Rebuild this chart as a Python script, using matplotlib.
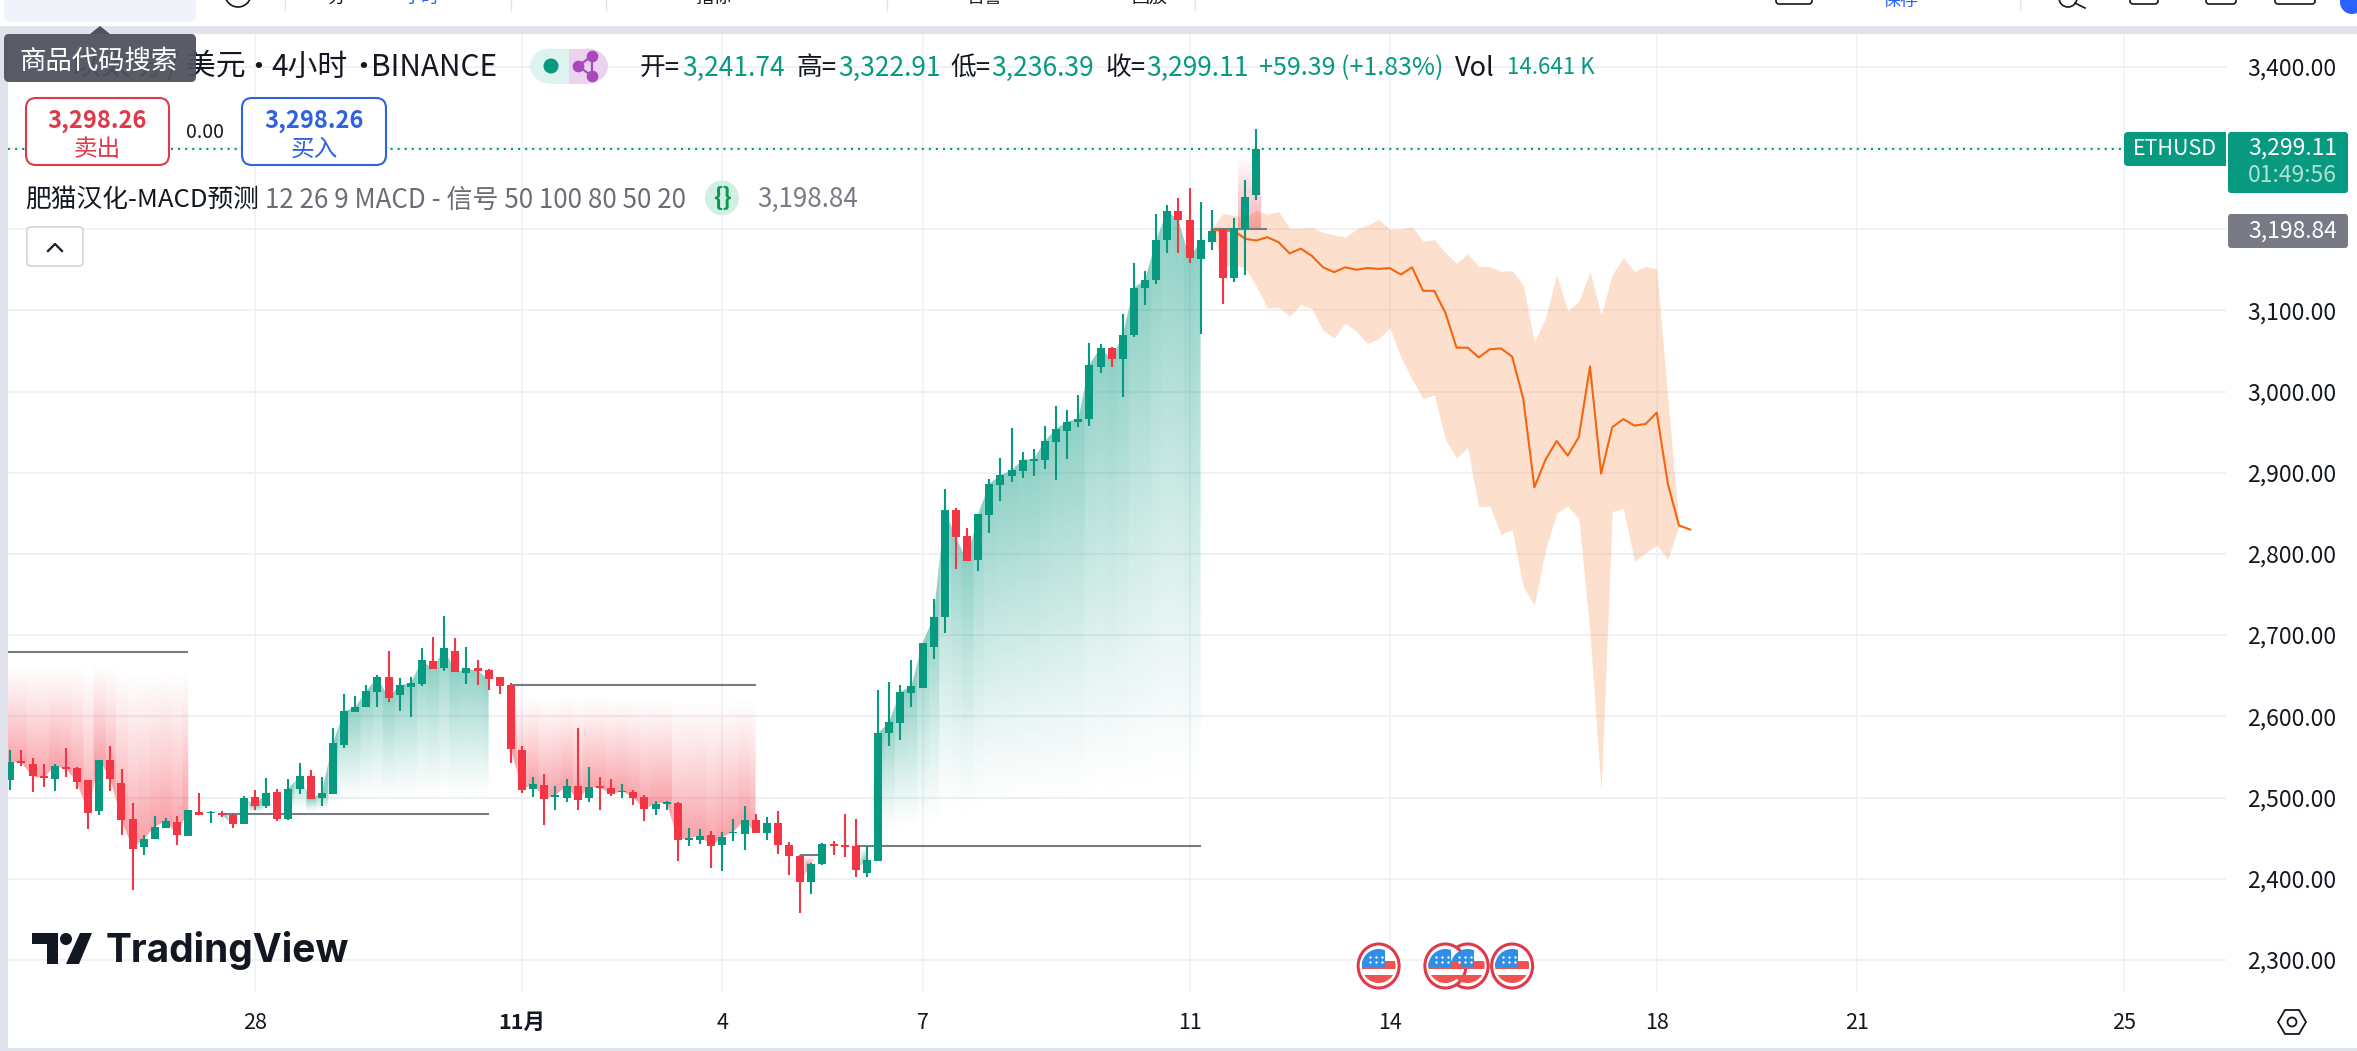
import numpy as np
import matplotlib
matplotlib.use("Agg")
import matplotlib.pyplot as plt
from matplotlib.patches import Rectangle, FancyBboxPatch, Circle, Ellipse, Polygon
from matplotlib.transforms import ScaledTranslation

plt.rcParams['font.family'] = ['Noto Sans CJK SC', 'DejaVu Sans']

W, H = 2357, 1051

opens = [2522,2545,2541,2527,2523,2538,2536,2521,2483,2546,2518,2474,2439,2449,2463,2470,2453,2482,2481,2481,
         2479,2467,2501,2490,2507,2473,2510,2526,2499,2504,2565,2605,2611,2630,2649,2626,2636,2640,2668,2659,
         2681,2653,2660,2657,2648,2639,2559,2511,2516,2501,2500,2514,2500,2514,2512,2507,2507,2501,2486,2492,
         2493,2448,2448,2454,2442,2456,2455,2472,2456,2469,2442,2428,2396,2418,2443,2441,2440,2407,2422,2579,
         2592,2629,2635,2685,2722,2854,2822,2792,2848,2885,2896,2902,2914,2916,2938,2951,2963,2966,3030,3054,
         3040,3069,3127,3137,3186,3222,3211,3163,3184,3200,3140,3200,3241.74]
highs = [2558,2559,2549,2541,2541,2561,2537,2521,2546,2564,2535,2493,2454,2477,2475,2477,2485,2505,2483,2483,
         2481,2502,2509,2524,2510,2523,2542,2534,2525,2586,2628,2625,2638,2651,2680,2647,2649,2684,2698,2723,
         2696,2685,2669,2658,2648,2641,2563,2525,2529,2514,2523,2586,2537,2525,2523,2517,2509,2503,2496,2496,
         2495,2462,2461,2459,2458,2474,2490,2480,2476,2483,2445,2429,2419,2444,2447,2480,2474,2440,2633,2642,
         2639,2669,2690,2745,2880,2856,2832,2849,2892,2918,2955,2926,2929,2958,2982,2977,2996,3060,3059,3055,
         3095,3158,3149,3218,3230,3238,3251,3233,3223,3200,3214,3261,3322.91]
lows = [2509,2539,2507,2513,2508,2525,2510,2461,2478,2508,2454,2386,2429,2449,2462,2441,2453,2479,2468,2476,
        2463,2467,2484,2487,2471,2472,2504,2498,2489,2504,2561,2605,2611,2611,2618,2606,2599,2637,2658,2656,
        2654,2640,2638,2633,2627,2543,2506,2501,2466,2485,2495,2484,2495,2485,2502,2500,2491,2471,2479,2484,
        2422,2440,2443,2413,2409,2446,2435,2456,2448,2430,2404,2358,2381,2417,2429,2427,2402,2402,2422,2563,
        2571,2611,2635,2670,2702,2782,2791,2779,2826,2865,2888,2893,2896,2905,2891,2917,2956,2958,3023,3030,
        2993,3067,3106,3132,3170,3170,3158,3071,3174,3108,3135,3144,3236.39]
closes = [2544,2543,2526,2524,2539,2535,2519,2481,2546,2523,2472,2437,2449,2464,2471,2454,2484,2479,2482,2479,
          2467,2500,2490,2506,2473,2511,2526,2498,2506,2567,2606,2611,2631,2648,2623,2638,2641,2669,2658,2684,
          2654,2659,2656,2646,2637,2560,2509,2517,2498,2503,2514,2497,2513,2512,2504,2508,2500,2486,2492,2494,
          2448,2450,2453,2440,2451,2458,2472,2456,2469,2442,2428,2396,2418,2443,2440,2439,2411,2423,2579,2593,
          2630,2637,2690,2722,2854,2821,2791,2849,2886,2897,2903,2916,2917,2939,2954,2963,2966,3033,3054,3040,
          3070,3128,3137,3187,3222,3211,3164,3186,3198,3140,3201,3240,3299.11]

forecast = [3199,3198,3198,3188,3186,3190,3184,3170,3176,3167,3153,3147,3153,3150,3152,3151,3152,3144,3153,3124,
            3124,3097,3054,3054,3042,3052,3053,3043,2991,2882,2916,2939,2921,2944,3031,2899,2956,2966,2958,2960,
            2974,2886,2835,2830]
band_upper = [3200,3219,3217,3214,3223,3218,3222,3201,3201,3202,3196,3193,3190,3200,3205,3212,3200,3200,3203,3185,
              3187,3171,3158,3170,3154,3154,3148,3149,3131,3061,3091,3144,3099,3111,3148,3094,3144,3165,3148,3154,
              3151,2991,2835]
band_lower = [3200,3152,3157,3152,3130,3103,3104,3093,3107,3102,3075,3066,3084,3074,3059,3065,3078,3042,3015,2991,
              2996,2941,2918,2931,2858,2859,2824,2830,2759,2737,2805,2850,2859,2843,2703,2508,2852,2856,2791,2801,
              2811,2793,2835]

forecast_start = 108
day_bars = [22, 46, 64, 82, 106, 124, 148, 166, 190]
day_labels = ['28', '11月', '4', '7', '11', '14', '18', '21', '25']
price_ticks = [2300, 2400, 2500, 2600, 2700, 2800, 2900, 3000, 3100, 3200, 3300, 3400]
price_labels = ['2,300.00', '2,400.00', '2,500.00', '2,600.00', '2,700.00', '2,800.00', '2,900.00',
                '3,000.00', '3,100.00', '3,200.00', '3,300.00', '3,400.00']
# swing zones: first bar, last bar, level, colour
zones = [(-1, 16, 2679, 'red'), (19, 43, 2480, 'green'), (45, 67, 2639, 'red'),
         (71, 73, 2429, 'red'), (76, 107, 2440, 'green')]
event_bars = [123, 131, 129, 135]

GREEN, RED, GREY = '#089981', '#f23645', '#787b86'
STEP, X0 = 11.125, 10.25           # px per bar, px of bar 0
PXY = 0.812                        # px per price unit
AL, AR, AT, AB = 8, 2226, 34, 992  # chart pane in px


def bar_px(i):
    return X0 + STEP * i


fig = plt.figure(figsize=(W / 100, H / 100), dpi=100, facecolor='white')
ax = fig.add_axes([AL / W, 1 - AB / H, (AR - AL) / W, (AB - AT) / H], facecolor='white')
ov = fig.add_axes([0, 0, 1, 1], facecolor='none', zorder=5)
ov.set_xlim(0, W)
ov.set_ylim(H, 0)
ov.axis('off')

xlim = ((AL - X0) / STEP, (AR - X0) / STEP)
ylim = (3400 - (AB - 66.7) / PXY, 3400 + (66.7 - AT) / PXY)
ax.set_xlim(*xlim)
ax.set_ylim(*ylim)
ax.set_autoscale_on(False)

# grid + axes
for s in ax.spines.values():
    s.set_visible(False)
ax.set_yticks(price_ticks)
ax.set_yticklabels(price_labels, fontsize=16.5, color='#131722')
ax.yaxis.tick_right()
ax.set_xticks(day_bars)
ax.set_xticklabels(day_labels, fontsize=15.5, color='#131722')
ax.tick_params(axis='both', length=0)
ax.tick_params(axis='y', pad=15)
ax.tick_params(axis='x', pad=14.5)
ax.get_xticklabels()[1].set_fontweight('bold')
ax.yaxis.grid(True, color='#f0f1f5', lw=1.5, zorder=0)
ax.xaxis.grid(True, color='#f0f1f5', lw=1.1, zorder=0)
ax.set_axisbelow(True)


def zone_fill(first, last, level, color, amax=0.46):
    vals = np.array(closes)
    bars = np.arange(max(first, 0), last + 1)
    v = vals[bars]
    xs = np.concatenate([[first], bars]) if first < 0 else bars
    vv = np.concatenate([[v[0]], v]) if first < 0 else v
    lo, hi = min(level, vv.min()), max(level, vv.max())
    nx, ny = int((xs[-1] - xs[0]) * 12) + 1, 400
    gx = np.linspace(xs[0], xs[-1], nx)
    gy = np.linspace(hi, lo, ny)
    rgb = matplotlib.colors.to_rgb(RED if color == 'red' else GREEN)
    img = np.zeros((ny, nx, 4))
    img[..., 0], img[..., 1], img[..., 2] = rgb
    nearest = vals[np.clip(np.round(gx).astype(int), 0, len(vals) - 1)]
    for c in range(nx):
        d = nearest[c] - level
        if d == 0:
            continue
        t = np.clip((gy - level) / d, 0, 1)
        img[:, c, 3] = amax * np.clip((t - 0.1) / 0.9, 0, 1) ** 1.2
    im = ax.imshow(img, extent=(xs[0], xs[-1], lo, hi), aspect='auto', zorder=1.5, interpolation='bilinear')
    poly = Polygon(np.column_stack([np.concatenate([xs, [xs[-1], xs[0]]]),
                                    np.concatenate([vv, [level, level]])]),
                   closed=True, transform=ax.transData, facecolor='none', edgecolor='none')
    ax.add_patch(poly)
    im.set_clip_path(poly)
    ax.hlines(level, xs[0] if first < 0 else first, last, color=GREY, lw=1.5, zorder=2.6)


for z in zones:
    zone_fill(*z)
ax.set_xlim(*xlim)
ax.set_ylim(*ylim)

# forecast band and line
fx = np.arange(forecast_start, forecast_start + len(forecast))
ax.fill_between(fx[:len(band_upper)], band_lower, band_upper, color='#f57016', alpha=0.21, lw=0, zorder=2)
ax.plot(fx, forecast, color='#f5640f', lw=1.5, zorder=2.2)
# last small red zone near the live bar
grad = np.zeros((100, 1, 4))
grad[..., :3] = matplotlib.colors.to_rgb(RED)
grad[:, 0, 3] = np.linspace(0.0, 0.4, 100)
ax.imshow(grad, extent=(110.4, 112.4, 3200, 3290), aspect='auto', zorder=2.3)
ax.hlines(3200, 108, 113, color=GREY, lw=1.5, zorder=2.6)
ax.set_xlim(*xlim)
ax.set_ylim(*ylim)

# last price line
ax.axhline(closes[-1], color=GREEN, lw=1.5, ls=(0, (1, 2.4)), zorder=2.7)

# candles
o, h, l, c = map(np.array, (opens, highs, lows, closes))
idx = np.arange(len(o))
up = c >= o
cols = np.where(up, GREEN, RED)
ax.vlines(idx, l, h, colors=cols, lw=1.5, zorder=3)
ax.bar(idx, np.maximum(np.abs(c - o), 1.5), bottom=np.minimum(o, c), width=8 / STEP, color=cols, lw=0, zorder=3.1)

# ---- overlay furniture (pixel coordinates) ----
BAND = '#e0e3eb'
ov.add_patch(Rectangle((0, 26), W, 8, fc=BAND, ec='none'))
ov.add_patch(Rectangle((0, 26), 8, H - 26, fc=BAND, ec='none'))
ov.add_patch(Rectangle((0, 1048), W, 3, fc=BAND, ec='none'))


def rbox(x0, y0, x1, y1, r=6, **kw):
    p = FancyBboxPatch((x0 + r, y0 + r), x1 - x0 - 2 * r, y1 - y0 - 2 * r,
                       boxstyle=f'round,pad={r},rounding_size={r}', **kw)
    ov.add_patch(p)
    return p


def txt(x, y, s, size, color='#131722', ha='left', weight='normal', z=6):
    return ov.text(x, y, s, fontsize=size, color=color, ha=ha, va='center', fontweight=weight, zorder=z)


# cut-off toolbar
rbox(4, -20, 196, 22, r=8, fc='#f0f3fa', ec='none')
for sx in (285, 511, 606, 887, 1195, 2020):
    ov.plot([sx, sx], [0, 10], color=BAND, lw=1)
for tx, s, col in ((336, '分', '#131722'), (421, '小时', '#2962ff'), (713, '指标', '#131722'),
                   (985, '告警', '#131722'), (1150, '回放', '#131722'), (1901, '保存', '#2962ff')):
    t = txt(tx, -2 if s != '保存' else 1, s, 13, col, ha='center')
ov.add_patch(Circle((238, -6), 13, fc='none', ec='#131722', lw=1.2))
ov.add_patch(Circle((2352, 2), 12, fc='#2962ff', ec='none'))
for a, b in ((1776, 1812), (2130, 2158), (2206, 2236), (2275, 2315)):
    rbox(a, -12, b, 4, r=3, fc='none', ec='#131722', lw=1.2)
ov.add_patch(Circle((2068, -2), 9, fc='none', ec='#131722', lw=1.2))
ov.plot([2075, 2085], [3, 8], color='#131722', lw=1.2)

# header
TS = 21.5
txt(246, 67, '以太坊 / 美元', TS, ha='right')
txt(258, 67, '·', TS, ha='center')
txt(271, 67, '4小时', TS)
txt(363, 67, '·', TS, ha='center')
txt(497, 67, 'BINANCE', TS, ha='right')
ov.add_patch(Polygon([(90, 34), (100, 26), (110, 34)], fc='#50535e', ec='none', zorder=7))
rbox(4, 34, 196, 82, r=5, fc='#50535e', ec='none', alpha=0.95, zorder=7)
txt(19, 61, '商品代码搜索', 19, 'white', z=8)

ov.add_patch(Ellipse((550, 66), 40, 35, fc='#ddf3ef', ec='none'))
ov.add_patch(Ellipse((588, 66), 40, 35, fc='#ebd3f0', ec='none'))
ov.add_patch(Rectangle((550, 48.5), 19, 35, fc='#ddf3ef', ec='none'))
ov.add_patch(Rectangle((569, 48.5), 19, 35, fc='#ebd3f0', ec='none'))
ov.add_patch(Ellipse((551, 66), 15, 15, fc=GREEN, ec='none', zorder=6))
ov.plot([592, 578, 592], [56, 66, 76], color='#ab47bc', lw=1.6, zorder=6)
ov.plot([592, 592], [56, 76], color='#ab47bc', lw=1.6, zorder=6)
ov.scatter([592, 578, 592], [56, 66, 76], s=55, color='#ab47bc', zorder=6)

for x, s, col, fs in ((640, '开=', '#131722', 18.5), (682, '3,241.74', GREEN, 19), (797, '高=', '#131722', 18.5),
                      (838, '3,322.91', GREEN, 19), (950, '低=', '#131722', 18.5), (991, '3,236.39', GREEN, 19),
                      (1105, '收=', '#131722', 18.5), (1146, '3,299.11', GREEN, 19),
                      (1259, '+59.39 (+1.83%)', GREEN, 18), (1455, 'Vol', '#131722', 19.5), (1507, '14.641 K', GREEN, 16)):
    txt(x, 68, s, fs, col)

# sell / buy
rbox(26, 98, 169, 165, r=10, fc='white', ec='#e0394a', lw=1.5)
rbox(242, 98, 386, 165, r=10, fc='white', ec='#2f62e0', lw=1.5)
txt(97, 121, '3,298.26', 17, '#e0394a', ha='center', weight='bold')
txt(97, 149, '卖出', 17, '#e0394a', ha='center')
txt(205, 133, '0.00', 14, ha='center')
txt(314, 121, '3,298.26', 17, '#2f62e0', ha='center', weight='bold')
txt(314, 149, '买入', 17, '#2f62e0', ha='center')

# legend
txt(25, 200, '肥猫汉化-MACD预测', 18.5)
txt(265, 200, '12 26 9 MACD - 信号 50 100 80 50 20', 18.7, '#6a6d78')
ov.add_patch(Ellipse((722, 198), 34, 35, fc='#d3efe3', ec='none'))
txt(722, 197, '{}', 18, '#089950', ha='center', weight='bold')
txt(757, 199, '3,198.84', 18.7, GREY)
rbox(27, 227, 83, 266, r=4, fc='white', ec='#d1d4dc', lw=1.2)
ov.plot([48, 55, 62], [251, 244, 251], color='#131722', lw=1.6)

# price labels
rbox(2124, 132, 2226, 166, r=4, fc=GREEN, ec='none')
ov.add_patch(Rectangle((2214, 132), 12, 34, fc=GREEN, ec='none'))
txt(2175, 149, 'ETHUSD', 15.5, 'white', ha='center')
rbox(2228, 132, 2348, 193, r=3, fc=GREEN, ec='none')
txt(2337, 148, '3,299.11', 16.5, 'white', ha='right')
txt(2337, 176, '01:49:56', 16.5, '#b2e0d6', ha='right')
rbox(2228, 214, 2348, 248, r=3, fc=GREY, ec='none')
txt(2337, 231, '3,198.84', 16.5, 'white', ha='right')

# settings hexagon
ov.add_patch(Polygon([(2278, 1022), (2285, 1010), (2299, 1010), (2306, 1022), (2299, 1034), (2285, 1034)],
                     fc='none', ec='#131722', lw=1.3))
ov.add_patch(Circle((2292, 1022), 4.5, fc='none', ec='#131722', lw=1.3))

# logo
DK = '#131722'
ov.add_patch(Polygon([(32, 933), (58, 933), (58, 964), (47, 964), (47, 944), (32, 944)], fc=DK, ec='none'))
ov.add_patch(Circle((66, 939), 6, fc=DK, ec='none'))
ov.add_patch(Polygon([(80, 933), (92, 933), (79, 964), (66, 964)], fc=DK, ec='none'))
ov.text(106, 951, 'TradingView', fontsize=28, color=DK, family='Inter', fontweight='bold', ha='left', va='center')


# event flags
def flag(cx, cy=966):
    ov.add_patch(Ellipse((cx, cy), 41, 44, fc='white', ec='#e0394a', lw=2.2, zorder=6))
    clip = Circle((cx, cy), 17, transform=ov.transData)
    for x0, y0, w, hh, col in ((cx - 17, cy - 5, 34, 8, '#ef5350'), (cx - 17, cy + 9, 34, 8, '#ef5350'),
                               (cx - 17, cy - 17, 23, 18, '#2f8fe8')):
        r = Rectangle((x0, y0), w, hh, fc=col, ec='none', zorder=6.1)
        ov.add_patch(r)
        r.set_clip_path(clip)
    ov.scatter([cx - 9, cx - 3, cx + 3, cx - 9, cx - 3, cx + 3], [cy - 9, cy - 9, cy - 9, cy - 4, cy - 4, cy - 4],
               s=3, color='white', linewidths=0, zorder=6.2)


for b in event_bars:
    flag(bar_px(b))

fig.savefig('out.png', dpi=100)
